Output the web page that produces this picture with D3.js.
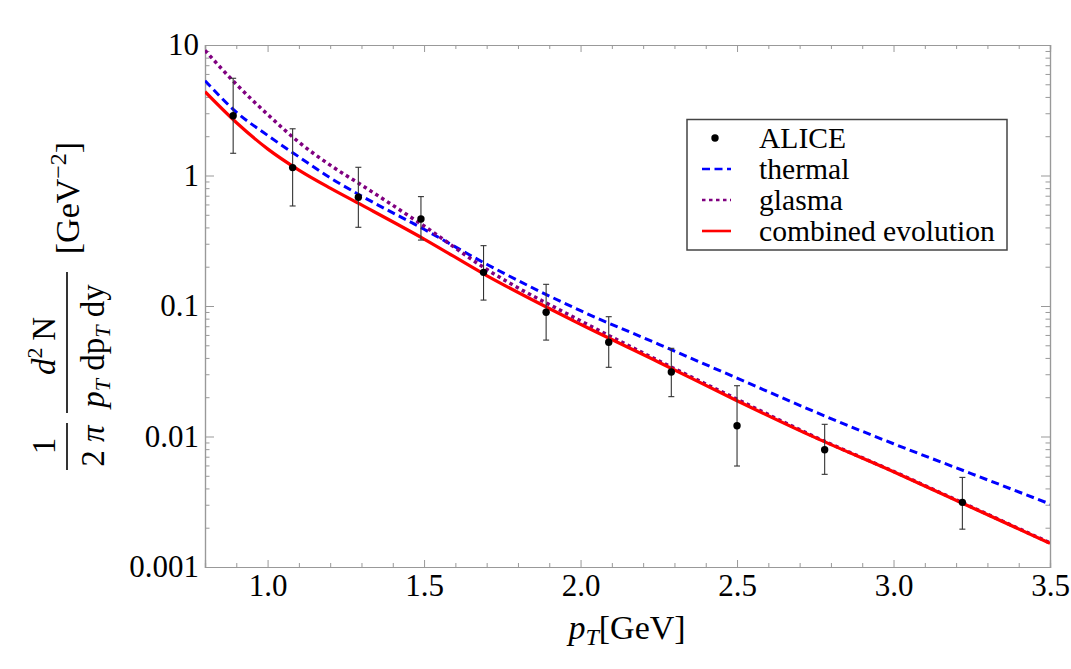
<!DOCTYPE html>
<html>
<head>
<meta charset="utf-8">
<script src="https://cdn.jsdelivr.net/npm/d3@7"></script>
<style>
  html, body { margin: 0; padding: 0; background: #fff; }
  svg { display: block; }
  text { font-family: "Liberation Serif", "Times New Roman", "DejaVu Serif", serif; fill: #000; }
</style>
</head>
<body>
<svg id="chart" width="1071" height="669"></svg>
<script>
// ---------------- data ----------------
const aliceX   = [0.89, 1.08, 1.29, 1.49, 1.69, 1.89, 2.09, 2.29, 2.50, 2.78, 3.22];
const aliceY   = [2.87, 1.15, 0.681, 0.464, 0.181, 0.0895, 0.0527, 0.0312, 0.0121, 0.00792, 0.00313];
const aliceHi  = [5.56, 2.28, 1.156, 0.689, 0.290, 0.1466, 0.0828, 0.0474, 0.0245, 0.0124, 0.00486];
const aliceLo  = [1.48, 0.584, 0.401, 0.320, 0.111, 0.0548, 0.0339, 0.0202, 0.00594, 0.00513, 0.00195];

const curveX    = [0.8, 0.9, 1.0, 1.1, 1.2, 1.3, 1.5, 1.7, 2.0, 2.25, 2.5, 2.75, 3.0, 3.25, 3.5];
const thermalY  = [5.33, 3.06, 2.03, 1.39, 0.96, 0.697, 0.387, 0.209, 0.092, 0.0509, 0.028, 0.0154, 0.0088, 0.00518, 0.00304];
const glasmaY   = [9.1, 5.0, 2.94, 1.80, 1.20, 0.845, 0.41, 0.191, 0.077, 0.038, 0.0193, 0.0099, 0.0054, 0.00288, 0.00153];
const combinedY = [4.39, 2.55, 1.60, 1.10, 0.80, 0.595, 0.326, 0.171, 0.0724, 0.0371, 0.0188, 0.0098, 0.00537, 0.00286, 0.00152];

const xMajorTicks = [1.0, 1.5, 2.0, 2.5, 3.0, 3.5];
const yMajorTicks = [0.001, 0.01, 0.1, 1, 10];
const yTickLabels = ["0.001", "0.01", "0.1", "1", "10"];
const legendLabels = ["ALICE", "thermal", "glasma", "combined evolution"];

// ---------------- layout ----------------
const svg = d3.select("#chart");
const L = 205, R = 1050, T = 45, B = 567;
const axisColor = "#999";

const x = d3.scaleLinear().domain([0.8, 3.5]).range([L, R]);
const y = d3.scaleLog().domain([0.001, 10]).range([B, T]);

svg.append("rect").attr("width", 1071).attr("height", 669).attr("fill", "#fff");

// minor ticks
const xMinor = d3.range(8, 36).map(d => d / 10).filter(v => !xMajorTicks.some(m => Math.abs(m - v) < 1e-9));
const yMinor = [];
[0.001, 0.01, 0.1, 1].forEach(dec => { for (let k = 2; k <= 9; k++) yMinor.push(dec * k); });

function styleAxis(g) {
  g.selectAll("path.domain").attr("stroke", axisColor).attr("stroke-width", 1.2);
  g.selectAll(".tick line").attr("stroke", axisColor).attr("stroke-width", 1);
}

// bottom
const gB = svg.append("g").attr("transform", `translate(0,${B})`)
  .call(d3.axisBottom(x).tickValues(xMajorTicks).tickFormat(d3.format(".1f")).tickSize(-7).tickPadding(7));
gB.selectAll("text").attr("font-size", 31).style("font-family", '"Liberation Serif", "Times New Roman", serif');
styleAxis(gB);
const gBm = svg.append("g").attr("transform", `translate(0,${B})`)
  .call(d3.axisBottom(x).tickValues(xMinor).tickFormat("").tickSize(-4));
styleAxis(gBm);

// top
const gT = svg.append("g").attr("transform", `translate(0,${T})`)
  .call(d3.axisTop(x).tickValues(xMajorTicks).tickFormat("").tickSize(-7));
styleAxis(gT);
const gTm = svg.append("g").attr("transform", `translate(0,${T})`)
  .call(d3.axisTop(x).tickValues(xMinor).tickFormat("").tickSize(-4));
styleAxis(gTm);

// left
const gL = svg.append("g").attr("transform", `translate(${L},0)`)
  .call(d3.axisLeft(y).tickValues(yMajorTicks).tickFormat((d, i) => yTickLabels[i]).tickSize(-9).tickPadding(6));
gL.selectAll("text").attr("font-size", 31).style("font-family", '"Liberation Serif", "Times New Roman", serif');
styleAxis(gL);
const gLm = svg.append("g").attr("transform", `translate(${L},0)`)
  .call(d3.axisLeft(y).tickValues(yMinor).tickFormat("").tickSize(-4.5));
styleAxis(gLm);

// right
const gR = svg.append("g").attr("transform", `translate(${R},0)`)
  .call(d3.axisRight(y).tickValues(yMajorTicks).tickFormat("").tickSize(-9));
styleAxis(gR);
const gRm = svg.append("g").attr("transform", `translate(${R},0)`)
  .call(d3.axisRight(y).tickValues(yMinor).tickFormat("").tickSize(-4.5));
styleAxis(gRm);

// clip
svg.append("clipPath").attr("id", "plotclip").append("rect")
  .attr("x", L).attr("y", T).attr("width", R - L).attr("height", B - T);

const plot = svg.append("g").attr("clip-path", "url(#plotclip)");

const line = d3.line().x(d => x(d[0])).y(d => y(d[1])).curve(d3.curveMonotoneX);

const series = [
  { vals: thermalY, color: "#0000ff", dash: "8,4.5", width: 3 },
  { vals: glasmaY, color: "#800080", dash: "3.5,3.5", width: 3.5 },
  { vals: combinedY, color: "#ff0000", dash: null, width: 3.2 }
];
series.forEach(s => {
  plot.append("path")
    .datum(curveX.map((p, i) => [p, s.vals[i]]))
    .attr("fill", "none")
    .attr("stroke", s.color)
    .attr("stroke-width", s.width)
    .attr("stroke-dasharray", s.dash)
    .attr("d", line);
});

// error bars + points
const pts = aliceX.map((p, i) => ({ p, v: aliceY[i], hi: aliceHi[i], lo: aliceLo[i] }));
const eb = svg.append("g");
pts.forEach(d => {
  const cx = x(d.p);
  eb.append("line").attr("x1", cx).attr("x2", cx).attr("y1", y(d.hi)).attr("y2", y(d.lo))
    .attr("stroke", "#333").attr("stroke-width", 1.1);
  [d.hi, d.lo].forEach(v => {
    eb.append("line").attr("x1", cx - 3).attr("x2", cx + 3).attr("y1", y(v)).attr("y2", y(v))
      .attr("stroke", "#333").attr("stroke-width", 1.1);
  });
});
svg.append("g").selectAll("circle").data(pts).join("circle")
  .attr("cx", d => x(d.p)).attr("cy", d => y(d.v)).attr("r", 3.7).attr("fill", "#000");

// legend
const lg = svg.append("g");
lg.append("rect").attr("x", 687).attr("y", 119.5).attr("width", 320).attr("height", 130.5)
  .attr("fill", "#fff").attr("stroke", "#444").attr("stroke-width", 1.5);
const rowY = [138, 169, 200, 231];
lg.append("circle").attr("cx", 715).attr("cy", rowY[0]).attr("r", 3.7).attr("fill", "#000");
series.forEach((s, i) => {
  lg.append("line").attr("x1", 702).attr("x2", 731).attr("y1", rowY[i + 1]).attr("y2", rowY[i + 1])
    .attr("stroke", s.color).attr("stroke-width", 2.6).attr("stroke-dasharray", s.dash);
});
legendLabels.forEach((t, i) => {
  lg.append("text").attr("x", 759).attr("y", rowY[i]).attr("dy", "0.33em")
    .attr("font-size", 29.6).text(t);
});

// x label
const xl = svg.append("text").attr("x", 627).attr("y", 639).attr("text-anchor", "middle").attr("font-size", 34);
xl.append("tspan").attr("font-style", "italic").text("p");
xl.append("tspan").attr("font-style", "italic").attr("font-size", 24).attr("dy", 6).text("T");
xl.append("tspan").attr("dy", -6).text("[GeV]");

// y label (rotated)
const yl = svg.append("g").attr("transform", "rotate(-90)");
const fs = 33;
yl.append("text").attr("x", -446).attr("y", 55).attr("text-anchor", "middle").attr("font-size", fs).text("1");
yl.append("line").attr("x1", -470).attr("x2", -423).attr("y1", 67).attr("y2", 67).attr("stroke", "#000").attr("stroke-width", 1.6);
const t2 = yl.append("text").attr("x", -446).attr("y", 104).attr("text-anchor", "middle").attr("font-size", fs);
t2.append("tspan").text("2 ");
t2.append("tspan").attr("font-style", "italic").text("π");

const tn = yl.append("text").attr("x", -346).attr("y", 55).attr("text-anchor", "middle").attr("font-size", fs);
tn.append("tspan").attr("font-style", "italic").text("d");
tn.append("tspan").attr("font-size", 22).attr("dy", -13).text("2");
tn.append("tspan").attr("dy", 13).text("\u2009N");
yl.append("line").attr("x1", -413).attr("x2", -272).attr("y1", 67).attr("y2", 67).attr("stroke", "#000").attr("stroke-width", 1.6);

const td = yl.append("text").attr("x", -346).attr("y", 104).attr("text-anchor", "middle").attr("font-size", fs);
td.append("tspan").attr("font-style", "italic").text("p");
td.append("tspan").attr("font-style", "italic").attr("font-size", 22).attr("dy", 6).text("T");
td.append("tspan").attr("dy", -6).text(" dp");
td.append("tspan").attr("font-style", "italic").attr("font-size", 22).attr("dy", 6).text("T");
td.append("tspan").attr("dy", -6).text(" dy");

const tu = yl.append("text").attr("x", -198).attr("y", 79).attr("text-anchor", "middle").attr("font-size", 34);
tu.append("tspan").text("[GeV");
tu.append("tspan").attr("font-size", 24).attr("dy", -13).text("\u22122");
tu.append("tspan").attr("dy", 13).text("]");
</script>
</body>
</html>
